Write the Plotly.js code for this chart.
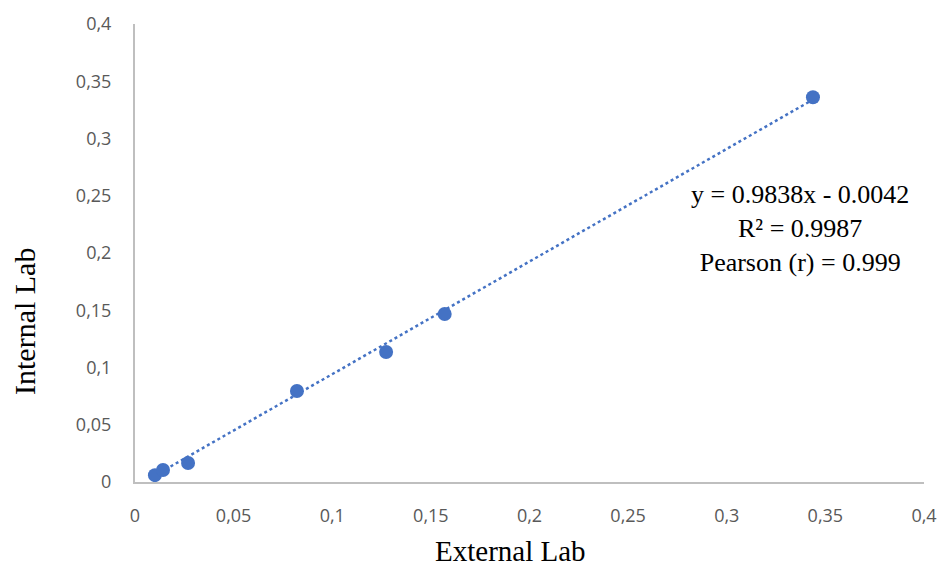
<!DOCTYPE html>
<html>
<head>
<meta charset="utf-8">
<script src="https://cdn.plot.ly/plotly-3.0.1.min.js"></script>
<style>html,body{margin:0;padding:0;background:#fff;}#chart{width:941px;height:572px;}</style>
</head>
<body>
<div id="chart"></div>
<script>
const externalLab = [0.0101, 0.0142, 0.0269, 0.0821, 0.1273, 0.157, 0.3437];
const internalLab = [0.006, 0.0105, 0.0166, 0.0795, 0.1135, 0.1467, 0.336];
const slope = 0.9838;
const intercept = -0.0042;
const tickVals = [0, 0.05, 0.1, 0.15, 0.2, 0.25, 0.3, 0.35, 0.4];
const tickLabels = ["0", "0,05", "0,1", "0,15", "0,2", "0,25", "0,3", "0,35", "0,4"];
const annotationLines = ["y = 0.9838x - 0.0042", "R² = 0.9987", "Pearson (r) = 0.999"];
const xTitle = "External Lab";
const yTitle = "Internal Lab";

const xMin = Math.min(...externalLab), xMax = Math.max(...externalLab);
const trendX = [xMin, xMax];
const trendY = trendX.map(v => slope * v + intercept);

const blue = '#4472C4';
const serif = 'Liberation Serif, Times New Roman, serif';
const traces = [
  {x: trendX, y: trendY, mode: 'lines', type: 'scatter',
   line: {color: blue, width: 2.5, dash: 'dot'}, hoverinfo: 'skip', showlegend: false},
  {x: externalLab, y: internalLab, mode: 'markers', type: 'scatter',
   marker: {color: blue, size: 14}, showlegend: false}
];
const tickFont = {family: 'Open Sans, Liberation Sans, sans-serif', size: 18, color: '#595959'};
const layout = {
  width: 941, height: 572,
  margin: {l: 135, r: 17, t: 24, b: 90},
  paper_bgcolor: '#fff', plot_bgcolor: '#fff',
  showlegend: false,
  xaxis: {range: [0, 0.4], tickvals: tickVals, ticktext: tickLabels, showgrid: false, zeroline: false,
          showline: true, linecolor: '#bfbfbf', linewidth: 2, ticks: '', tickfont: tickFont,
          ticklabelstandoff: 16},
  yaxis: {range: [0, 0.4], tickvals: tickVals, ticktext: tickLabels, showgrid: false, zeroline: false,
          showline: true, linecolor: '#bfbfbf', linewidth: 2, ticks: '', tickfont: tickFont,
          ticklabelstandoff: 18},
  annotations: [
    {x: 0.337, y: 0.221, xref: 'x', yref: 'y', showarrow: false,
     text: annotationLines.join('<br>'), align: 'center',
     font: {family: serif, size: 26, color: '#000'}},
    {x: 510, y: 551, xref: 'paper', yref: 'paper', showarrow: false, text: xTitle,
     xanchor: 'center', yanchor: 'middle', borderpad: 0,
     font: {family: serif, size: 29, color: '#000'}},
    {x: 24, y: 321, xref: 'paper', yref: 'paper', showarrow: false, text: yTitle, textangle: -90,
     xanchor: 'center', yanchor: 'middle',
     font: {family: serif, size: 30, color: '#000'}}
  ]
};
// convert pixel positions of titles into paper fractions
const pw = 941 - 135 - 17, ph = 572 - 24 - 90;
layout.annotations[1].x = (510 - 135) / pw; layout.annotations[1].y = (572 - 90 - 551) / ph;
layout.annotations[2].x = (24 - 135) / pw; layout.annotations[2].y = (572 - 90 - 321) / ph;
Plotly.newPlot('chart', traces, layout, {displayModeBar: false, staticPlot: true});
</script>
</body>
</html>
